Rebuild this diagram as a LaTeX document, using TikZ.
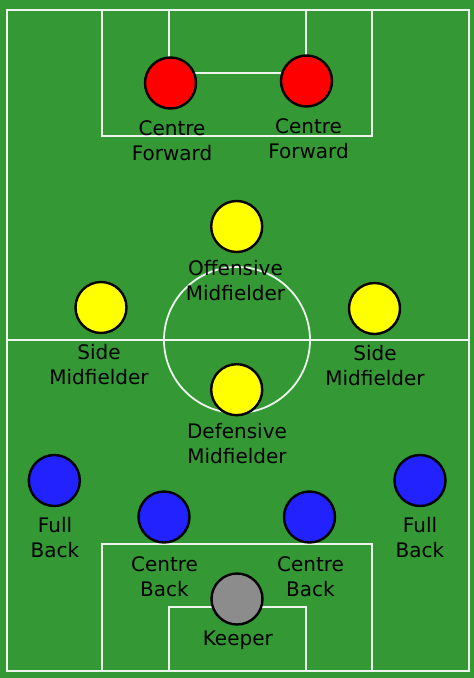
\documentclass[tikz,border=0pt]{standalone}
\usepackage{fontspec}
\setmainfont{DejaVu Sans}
\usepackage{tikz}
\usepackage{xcolor}
\usetikzlibrary{positioning}

\definecolor{pitch}{RGB}{52,153,52}
\definecolor{chalk}{RGB}{236,246,236}
\definecolor{forward}{RGB}{255,0,0}
\definecolor{midfield}{RGB}{255,255,0}
\definecolor{defence}{RGB}{34,34,255}
\definecolor{keeper}{RGB}{140,140,140}

\tikzset{
  player/.style={circle, draw=black, line width=2.4pt, minimum size=51pt, inner sep=0pt},
  role/.style={anchor=north, align=center, inner sep=0pt, font=\fontsize{20}{25}\selectfont},
  line/.style={draw=chalk, line width=1.8pt}
}

\begin{document}
\begin{tikzpicture}[x=1pt, y=-1pt]
                                \fill[pitch] (0, 0) rectangle (474, 678);
                                \useasboundingbox (0, 0) rectangle (474, 678);

                                % markings
                                \draw[line] (7, 10) rectangle (469, 671);
                                \draw[line] (7, 340) -- (469, 340);
                                \draw[line] (237, 340) circle (73);
                                \draw[line] (102, 10) rectangle (372, 136);
                                \draw[line] (169, 10) rectangle (306, 73);
                                \draw[line] (102, 671) rectangle (372, 544);
                                \draw[line] (169, 671) rectangle (306, 607);

                                % forwards
                                \node[player, fill=forward] (cfl) at (170.5, 83) {};
                                \node[player, fill=forward] (cfr) at (306.5, 81) {};
                                \node[role] (cfltxt) at (172, 120) {Centre\\Forward};
                                \node[role] (cfrtxt) at (308.5, 118) {Centre\\Forward};

                                % midfielders
                                \node[player, fill=midfield] (om) at (236.7, 226.5) {};
                                \node[player, fill=midfield] (sml) at (101, 307.5) {};
                                \node[player, fill=midfield] (smr) at (374.5, 308.5) {};
                                \node[player, fill=midfield] (dm) at (236.7, 389.7) {};
                                \node[role] (omtxt) at (235.5, 260) {Offensive\\Midfielder};
                                \node[role] (smltxt) at (99, 344) {Side\\Midfielder};
                                \node[role] (smrtxt) at (375, 345) {Side\\Midfielder};
                                \node[role] (dmtxt) at (237, 423) {Defensive\\Midfielder};

                                % defenders
                                \node[player, fill=defence] (fbl) at (54.3, 480.5) {};
                                \node[player, fill=defence] (fbr) at (420, 480.5) {};
                                \node[player, fill=defence] (cbl) at (164, 517) {};
                                \node[player, fill=defence] (cbr) at (309.5, 517) {};
                                \node[role] (fbltxt) at (55, 517) {Full\\Back};
                                \node[role] (fbrtxt) at (420, 517) {Full\\Back};
                                \node[role] (cbltxt) at (164.5, 556) {Centre\\Back};
                                \node[role] (cbrtxt) at (310.5, 556) {Centre\\Back};

                                % keeper
                                \node[player, fill=keeper] (gk) at (237, 599) {};
                                \node[role] (gktxt) at (237.8, 631) {Keeper};
                            \end{tikzpicture}
\end{document}
